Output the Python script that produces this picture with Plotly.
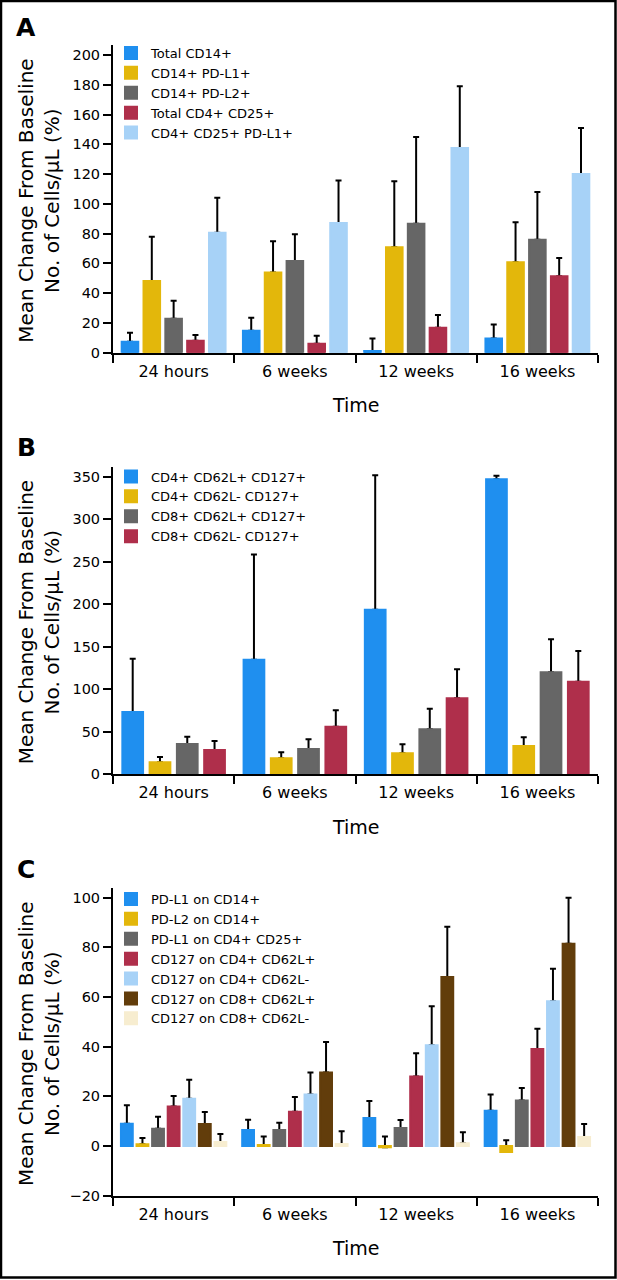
import plotly.graph_objects as go

W, H = 617, 1280
FONT = "DejaVu Sans"

categories = ["24 hours", "6 weeks", "12 weeks", "16 weeks"]

# ---------------- Panel A ----------------
a_names = ["Total CD14+", "CD14+ PD-L1+", "CD14+ PD-L2+", "Total CD4+ CD25+", "CD4+ CD25+ PD-L1+"]
a_total_cd14 = [7.4, 14.8, 1.1, 9.6]
a_total_cd14_err = [6.0, 8.7, 8.5, 9.4]
a_cd14_pdl1 = [48.2, 53.8, 70.8, 60.7]
a_cd14_pdl1_err = [29.7, 21.0, 44.3, 26.9]
a_cd14_pdl2 = [22.8, 61.6, 86.7, 75.9]
a_cd14_pdl2_err = [12.1, 17.9, 58.2, 32.1]
a_cd4_cd25 = [8.1, 6.0, 16.8, 51.3]
a_cd4_cd25_err = [3.8, 5.4, 8.5, 12.3]
a_cd4_cd25_pdl1 = [80.6, 87.1, 137.5, 120.0]
a_cd4_cd25_pdl1_err = [23.5, 28.5, 41.5, 30.9]

# ---------------- Panel B ----------------
b_names = ["CD4+ CD62L+ CD127+", "CD4+ CD62L- CD127+", "CD8+ CD62L+ CD127+", "CD8+ CD62L- CD127+"]
b_cd4_62lp = [73.0, 134.6, 193.4, 346.8]
b_cd4_62lp_err = [62.7, 123.9, 158.1, 4.3]
b_cd4_62ln = [13.7, 18.4, 24.3, 33.0]
b_cd4_62ln_err = [6.3, 7.1, 10.6, 10.2]
b_cd8_62lp = [35.3, 29.4, 52.6, 119.7]
b_cd8_62lp_err = [8.6, 11.4, 24.3, 38.8]
b_cd8_62ln = [28.2, 55.7, 89.1, 108.7]
b_cd8_62ln_err = [10.6, 19.2, 34.1, 36.1]

# ---------------- Panel C ----------------
c_names = ["PD-L1 on CD14+", "PD-L2 on CD14+", "PD-L1 on CD4+ CD25+", "CD127 on CD4+ CD62L+",
           "CD127 on CD4+ CD62L-", "CD127 on CD8+ CD62L+", "CD127 on CD8+ CD62L-"]
c_pdl1_cd14 = [9.0, 6.5, 11.3, 14.2]
c_pdl1_cd14_err = [7.4, 4.1, 6.8, 6.6]
c_pdl2_cd14 = [0.7, 0.4, -0.5, -2.4]
c_pdl2_cd14_err = [2.5, 3.4, 4.3, 4.7]
c_pdl1_cd4cd25 = [7.0, 6.5, 7.3, 18.3]
c_pdl1_cd4cd25_err = [4.8, 2.9, 3.2, 5.1]
c_cd127_cd4_62lp = [15.9, 13.8, 28.0, 39.1]
c_cd127_cd4_62lp_err = [4.3, 6.0, 9.4, 8.1]
c_cd127_cd4_62ln = [19.0, 20.8, 40.6, 58.3]
c_cd127_cd4_62ln_err = [7.7, 8.8, 15.7, 13.1]
c_cd127_cd8_62lp = [8.9, 29.6, 68.1, 81.5]
c_cd127_cd8_62lp_err = [4.8, 12.3, 20.2, 18.5]
c_cd127_cd8_62ln = [1.6, 0.8, 1.1, 3.6]
c_cd127_cd8_62ln_err = [3.2, 5.2, 4.5, 5.3]

BLUE = "#1F8FEF"
YELLOW = "#E3B70B"
GRAY = "#666666"
RED = "#AF2F4B"
LBLUE = "#A7D2F7"
BROWN = "#623D0B"
CREAM = "#F7EDD0"

panel_a = list(zip(a_names,
                   [a_total_cd14, a_cd14_pdl1, a_cd14_pdl2, a_cd4_cd25, a_cd4_cd25_pdl1],
                   [a_total_cd14_err, a_cd14_pdl1_err, a_cd14_pdl2_err, a_cd4_cd25_err, a_cd4_cd25_pdl1_err],
                   [BLUE, YELLOW, GRAY, RED, LBLUE]))
panel_b = list(zip(b_names,
                   [b_cd4_62lp, b_cd4_62ln, b_cd8_62lp, b_cd8_62ln],
                   [b_cd4_62lp_err, b_cd4_62ln_err, b_cd8_62lp_err, b_cd8_62ln_err],
                   [BLUE, YELLOW, GRAY, RED]))
panel_c = list(zip(c_names,
                   [c_pdl1_cd14, c_pdl2_cd14, c_pdl1_cd4cd25, c_cd127_cd4_62lp,
                    c_cd127_cd4_62ln, c_cd127_cd8_62lp, c_cd127_cd8_62ln],
                   [c_pdl1_cd14_err, c_pdl2_cd14_err, c_pdl1_cd4cd25_err, c_cd127_cd4_62lp_err,
                    c_cd127_cd4_62ln_err, c_cd127_cd8_62lp_err, c_cd127_cd8_62ln_err],
                   [BLUE, YELLOW, GRAY, RED, LBLUE, BROWN, CREAM]))

fig = go.Figure()

def add_panel(series, xa, ya, legend, tag):
    for name, vals, errs, color in series:
        grp = tag + name
        # bar carrying the one-sided (upper) error bar
        fig.add_trace(go.Bar(
            x=categories, y=vals, name=name, offsetgroup=grp, showlegend=False,
            marker=dict(color=color, line=dict(width=0)),
            error_y=dict(type="data", symmetric=False, array=errs,
                         arrayminus=[0] * len(errs), color="black",
                         thickness=2, width=3),
            xaxis=xa, yaxis=ya, legend=legend, hoverinfo="skip",
        ))
        # same bar drawn on top (with a same-colour outline) so only the
        # upper whisker and its cap remain visible
        fig.add_trace(go.Bar(
            x=categories, y=vals, name=name, offsetgroup=grp,
            marker=dict(color=color, line=dict(width=2, color=color)),
            xaxis=xa, yaxis=ya, legend=legend,
        ))

add_panel(panel_a, "x", "y", "legend", "A")
add_panel(panel_b, "x2", "y2", "legend2", "B")
add_panel(panel_c, "x3", "y3", "legend3", "C")

def py(px):
    return 1 - px / H

def pxx(px):
    return px / W

X_DOM = [pxx(113), pxx(598)]
tickfont = dict(family=FONT, size=14.5, color="black")
catfont = dict(family=FONT, size=16, color="black")

def xaxis(anchor):
    return dict(domain=X_DOM, anchor=anchor, type="category", categoryorder="array",
                categoryarray=categories, range=[-0.5, 3.5], tickson="boundaries",
                showline=True, linecolor="black", linewidth=2, ticks="outside",
                ticklen=8, tickwidth=2, tickcolor="black", showgrid=False,
                zeroline=False, tickfont=catfont, automargin=False, ticklabelstandoff=3)

def yaxis(anchor, dom, rng, dtick, tick0):
    return dict(domain=dom, anchor=anchor, range=rng, dtick=dtick, tick0=tick0,
                showline=True, linecolor="black", linewidth=2, ticks="outside",
                ticklen=8, tickwidth=2, tickcolor="black", showgrid=False,
                zeroline=False, tickfont=tickfont, automargin=False)

# panel geometry (pixel positions of axis bottom/top)
A_BOT, A_TOP = 352.7, 45.0
B_BOT, B_TOP = 774.0, 466.7
C_BOT, C_TOP = 1195.7, 888.3

legend_common = dict(bgcolor="rgba(0,0,0,0)", borderwidth=0, xanchor="left", yanchor="top",
                     font=dict(family=FONT, size=13, color="black"), traceorder="normal",
                     itemclick=False, itemdoubleclick=False)

annotations = []
for letter, ypx in [("A", 27.5), ("B", 447.5), ("C", 869)]:
    annotations.append(dict(text="<b>%s</b>" % letter, x=pxx(26), y=py(ypx), xref="paper", yref="paper",
                            showarrow=False, font=dict(family=FONT, size=25, color="black"),
                            xanchor="center", yanchor="middle"))
ytitle = "Mean Change From Baseline<br>No. of Cells/\u03bcL (%)"
for ypx in [(A_BOT + A_TOP) / 2, (B_BOT + B_TOP) / 2, (C_BOT + C_TOP) / 2]:
    annotations.append(dict(text=ytitle, x=pxx(39), y=py(ypx + 2), xref="paper", yref="paper",
                            showarrow=False, textangle=-90, align="center",
                            font=dict(family=FONT, size=20, color="black"),
                            xanchor="center", yanchor="middle"))
for ypx in [405, 826.7, 1248]:
    annotations.append(dict(text="Time", x=pxx(355.5), y=py(ypx), xref="paper", yref="paper",
                            showarrow=False, font=dict(family=FONT, size=19, color="black"),
                            xanchor="center", yanchor="middle"))

fig.update_layout(
    width=W, height=H,
    margin=dict(l=0, r=0, t=0, b=0),
    paper_bgcolor="white", plot_bgcolor="white",
    barmode="group", bargap=0.1, bargroupgap=0.24,
    font=dict(family=FONT, color="black"),
    xaxis=xaxis("y"),
    yaxis=yaxis("x", [py(A_BOT), py(A_TOP)], [0, 206.7], 20, 0),
    xaxis2=xaxis("y2"),
    yaxis2=yaxis("x2", [py(B_BOT), py(B_TOP)], [0, 361.7], 50, 0),
    xaxis3=xaxis("y3"),
    yaxis3=yaxis("x3", [py(C_BOT), py(C_TOP)], [-20, 103.8], 20, -20),
    legend=dict(legend_common, x=pxx(111), y=py(38)),
    legend2=dict(legend_common, x=pxx(111), y=py(461.5)),
    legend3=dict(legend_common, x=pxx(111), y=py(884)),
    annotations=annotations,
    shapes=[dict(type="rect", xref="paper", yref="paper", x0=pxx(1), x1=pxx(615.5),
                 y0=py(1277.5), y1=py(1), line=dict(color="black", width=2.5),
                 fillcolor="rgba(0,0,0,0)")],
    showlegend=True,
)

fig.write_html("out.html", config={"displayModeBar": False},
               post_script="document.body.style.margin='0';document.body.style.overflow='hidden';")
